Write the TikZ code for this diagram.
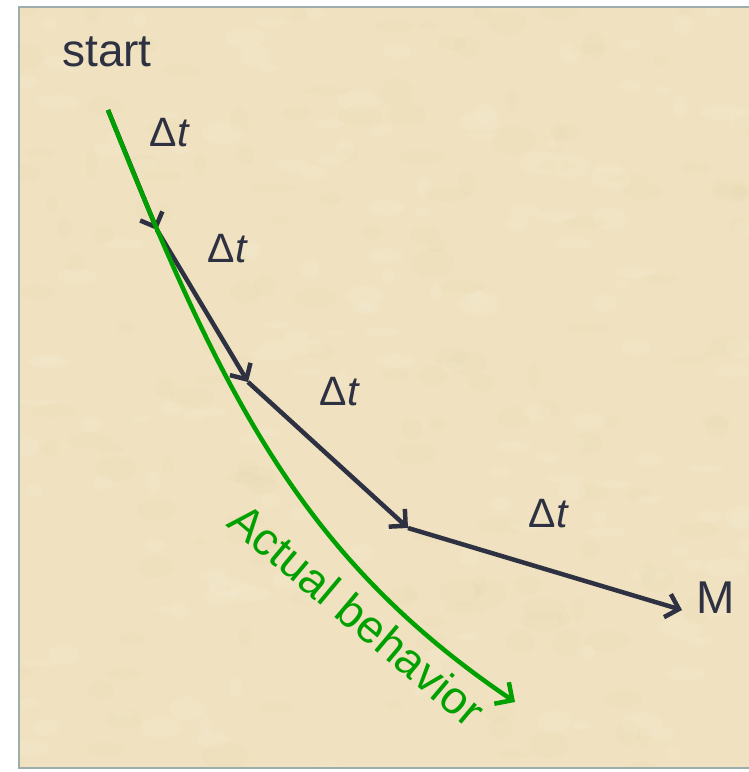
\documentclass[tikz,border=0pt]{standalone}
\usepackage{fontspec}
\setmainfont{Liberation Sans}
\usetikzlibrary{arrows.meta}
\definecolor{parch}{RGB}{240,226,192}
\definecolor{parchdark}{RGB}{214,190,140}
\definecolor{frameclr}{RGB}{158,172,172}
\definecolor{ink}{RGB}{46,49,66}
\definecolor{grn}{RGB}{0,160,0}
\tikzset{
  lbl/.style={font=\fontsize{46}{50}\selectfont, text=ink, inner sep=0pt, anchor=base},
  dlbl/.style={font=\fontsize{41}{44}\selectfont, text=ink, inner sep=0pt, anchor=base},
  stepline/.style={draw=ink, line width=4.5pt, -{Straight Barb[length=12pt,width=24pt,line width=4.5pt]}},
  actual/.style={draw=grn, line width=4.5pt, -{Straight Barb[length=13pt,width=26pt,line width=4.5pt]}},
}
\begin{document}
\begin{tikzpicture}[x=1pt,y=-1pt]
\useasboundingbox (0,0) rectangle (749,772);
\fill[white] (0,0) rectangle (749,772);
\fill[parch] (19,7) rectangle (760,768);
\begin{scope}
\clip (19,7) rectangle (760,768);
\pgfmathsetseed{11}
\foreach \i in {1,...,160}{
  \pgfmathsetmacro{\xx}{20+730*rnd}
  \pgfmathsetmacro{\yy}{8+760*rnd}
  \pgfmathsetmacro{\rx}{6+18*rnd}
  \pgfmathsetmacro{\ry}{4+10*rnd}
  \fill[parchdark, opacity=0.05] (\xx,\yy) ellipse [x radius=\rx, y radius=\ry];
}
\foreach \i in {1,...,160}{
  \pgfmathsetmacro{\xx}{20+730*rnd}
  \pgfmathsetmacro{\yy}{8+760*rnd}
  \pgfmathsetmacro{\rx}{6+16*rnd}
  \pgfmathsetmacro{\ry}{3+9*rnd}
  \fill[white, opacity=0.07] (\xx,\yy) ellipse [x radius=\rx, y radius=\ry];
}
\end{scope}
\draw[frameclr, line width=2pt] (760,7) -- (19,7) -- (19,768) -- (760,768);
% labels
\node[lbl] (start) at (107,66) {start};
\node[lbl] (M) at (716,613) {M};
\node[dlbl] (d1) at (170,146) {Δ\textit{t}};
\node[dlbl] (d2) at (228,262) {Δ\textit{t}};
\node[dlbl] (d3) at (340,405) {Δ\textit{t}};
\node[dlbl] (d4) at (549,527) {Δ\textit{t}};
% points
\coordinate (p0) at (108,110);
\coordinate (p1) at (157,230);
\coordinate (p2) at (248,382);
\coordinate (p3) at (408,528);
\coordinate (p4) at (682,610);
\coordinate (c1) at (220,390);
\coordinate (c2) at (299,556);
\coordinate (gend) at (515,702);
\draw[stepline] (p0) -- (p1);
\draw[stepline] (p1) -- (p2);
\draw[stepline] (p2) -- (p3);
\draw[stepline] (p3) -- (p4);
\draw[actual] (p0) .. controls (c1) and (c2) .. (gend);
\node[font=\fontsize{46}{49}\selectfont, text=grn, rotate=-40, inner sep=0pt, anchor=base west] (act) at (225,525) {Actual behavior};
\end{tikzpicture}
\end{document}
